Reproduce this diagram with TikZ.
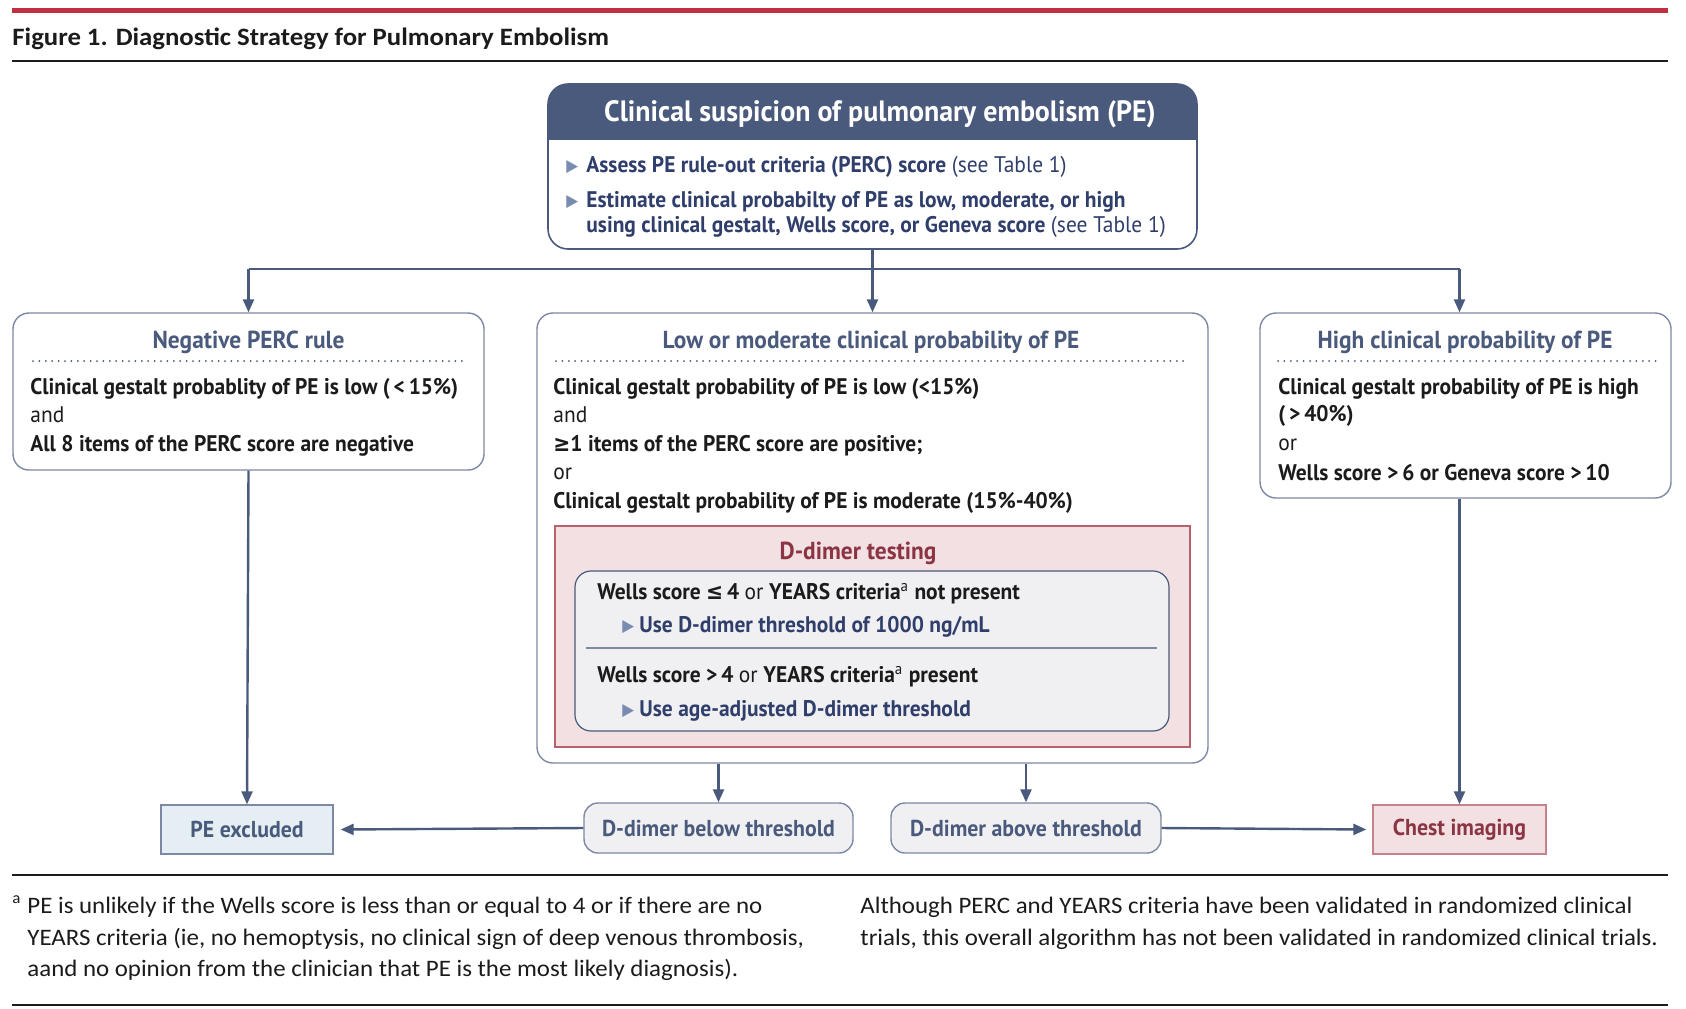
\documentclass[tikz,border=0pt]{standalone}
\usepackage{fontspec}
\setmainfont{PT Sans}[FakeStretch=0.95]
\newfontfamily\symfont{DejaVu Sans}[FakeStretch=0.9]
\newfontfamily\notefont{Carlito}[FakeStretch=1.055]
\newfontfamily\titlefont{Carlito}[FakeStretch=1.07]
\usetikzlibrary{arrows.meta}
\definecolor{slate}{HTML}{4A5A7C}
\definecolor{navy}{HTML}{2F3E6B}
\definecolor{ink}{HTML}{1B1B1B}
\definecolor{boxline}{HTML}{7D88A6}
\definecolor{bultri}{HTML}{7A8BB0}
\definecolor{jred}{HTML}{C0313F}
\definecolor{pinkfill}{HTML}{F3E0E2}
\definecolor{pinkline}{HTML}{B7616F}
\definecolor{wine}{HTML}{8B3443}
\definecolor{greyfill}{HTML}{F0F0F2}
\definecolor{bluefill}{HTML}{E5EFF3}
\tikzset{
  arr/.style={draw=slate, line width=1.2pt, -{Triangle[length=6.5pt,width=5.5pt]}},
  wire/.style={draw=slate, line width=1.2pt},
  panel/.style={draw=boxline, line width=0.7pt, rounded corners=8pt, fill=white, inner sep=0},
  boxtitle/.style={font=\bfseries\fontsize{12.3}{15}\selectfont, text=slate, anchor=base, inner sep=0},
  body/.style={font=\bfseries\fontsize{11.3}{14}\selectfont, text=ink, anchor=base west, inner sep=0},
  plain/.style={font=\mdseries\fontsize{11.3}{14}\selectfont, text=ink, anchor=base west, inner sep=0},
  navytext/.style={font=\bfseries\fontsize{11.3}{14}\selectfont, text=navy, anchor=base west, inner sep=0},
  bullet/.style={font=\symfont\fontsize{8.5}{9}\selectfont, text=bultri, anchor=base west, inner sep=0},
  dots/.style={draw=slate, line width=1pt, line cap=round, dash pattern=on 0pt off 3.2pt},
  foot/.style={font=\notefont\fontsize{11.8}{14}\selectfont, text=ink, anchor=base west, inner sep=0},
  endbox/.style={line width=0.7pt, inner sep=0, font=\bfseries\fontsize{11.5}{14}\selectfont},
}
\begin{document}
\begin{tikzpicture}[x=0.5pt,y=-0.5pt]
\path[use as bounding box] (0,0) rectangle (1686,1008);
\fill[white] (0,0) rectangle (1686,1008);
% header rules and title
\draw[draw=jred, line width=2.5pt] (12,10.5) -- (1668,10.5);
\node[anchor=base west, inner sep=0, font=\titlefont\bfseries\fontsize{12.5}{15}\selectfont, text=ink] (title) at (12,45) {Figure 1. Diagnostic Strategy for Pulmonary Embolism};
\draw[draw=ink, line width=1pt] (12,61) -- (1668,61);

% top box
\begin{scope}
  \clip (548,84) rectangle (1197,139);
  \fill[slate, rounded corners=10pt] (548,84) rectangle (1197,249);
\end{scope}
\node[draw=slate, line width=0.8pt, rounded corners=10pt, minimum width=324.5pt, minimum height=82.5pt, inner sep=0] (top) at (872.5,166.5) {};
\node[font=\bfseries\fontsize{14.7}{18}\selectfont, text=white, anchor=base, inner sep=0] (hdr) at (880,121) {Clinical suspicion of pulmonary embolism (PE)};
\node[bullet] (b1) at (566,171) {▶};
\node[navytext] (t1) at (586,172) {Assess PE rule-out criteria (PERC) score \mdseries(see Table 1)};
\node[bullet] (b2) at (566,206) {▶};
\node[navytext] (t2) at (586,207) {Estimate clinical probabilty of PE as low, moderate, or high};
\node[navytext] (t3) at (586,232) {using clinical gestalt, Wells score, or Geneva score \mdseries(see Table 1)};

% three panels
\node[panel, minimum width=235.5pt, minimum height=78.5pt] (neg) at (248.5,391.5) {};
\node[panel, minimum width=335.5pt, minimum height=225pt] (mid) at (872.5,538) {};
\node[panel, minimum width=205.5pt, minimum height=92.5pt] (high) at (1465.5,405.5) {};

% connectors from top
\coordinate (jc) at (872.5,269);
\coordinate (jl) at (248.5,269);
\coordinate (jr) at (1459.5,269);
\draw[wire] (top.south) -- (jc);
\draw[wire] (jl) -- (jr);
\draw[arr] (jl) -- (neg.north);
\draw[arr] (jc) -- (mid.north);
\draw[arr] (jr) -- (jr |- high.north);

% left panel text
\node[boxtitle] (negt) at (248.5,348) {Negative PERC rule};
\draw[dots] (33,361) -- (467,361);
\node[body] (n1) at (30,394) {Clinical gestalt probablity of PE is low (\,<\,15\%)};
\node[plain] (n2) at (30,422) {and};
\node[body] (n3) at (30,451) {All 8 items of the PERC score are negative};

% middle panel text
\node[boxtitle] (midt) at (871,348) {Low or moderate clinical probability of PE};
\draw[dots] (556,361) -- (1188,361);
\node[body] (m1) at (553,394) {Clinical gestalt probability of PE is low (<15\%)};
\node[plain] (m2) at (553,422) {and};
\node[body] (m3) at (553,451) {{\symfont ≥}1 items of the PERC score are positive;};
\node[plain] (m4) at (553,479) {or};
\node[body] (m5) at (553,508) {Clinical gestalt probability of PE is moderate (15\%-40\%)};

% D-dimer box
\node[draw=pinkline, fill=pinkfill, line width=0.7pt, minimum width=317.5pt, minimum height=110.5pt, inner sep=0] (dd) at (872.5,636.5) {};
\node[boxtitle, text=wine] (ddt) at (858,559) {D-dimer testing};
\node[draw=slate, fill=greyfill, line width=0.6pt, rounded corners=8pt, minimum width=297pt, minimum height=80pt, inner sep=0] (ddin) at (872,651) {};
\node[body] (d1) at (597,599) {Wells score {\symfont ≤}\,4 \mdseries or \bfseries YEARS criteria\textsuperscript{\mdseries a} not present};
\node[bullet] (db1) at (622,631) {▶};
\node[navytext] (d2) at (639,632) {Use D-dimer threshold of 1000 ng/mL};
\draw[draw=slate!70, line width=0.8pt] (586,648) -- (1157,648);
\node[body] (d3) at (597,682) {Wells score >\,4 \mdseries or \bfseries YEARS criteria\textsuperscript{\mdseries a} present};
\node[bullet] (db2) at (622,715) {▶};
\node[navytext] (d4) at (639,716) {Use age-adjusted D-dimer threshold};

% right panel text
\node[boxtitle] (hight) at (1465,348) {High clinical probability of PE};
\draw[dots] (1278,361) -- (1656,361);
\node[body] (h1) at (1278,394) {Clinical gestalt probability of PE is high};
\node[body] (h2) at (1278,421) {(\,>\,40\%)};
\node[plain] (h3) at (1278,450) {or};
\node[body] (h4) at (1278,480) {Wells score >\,6 or Geneva score >\,10};

% end nodes
\node[endbox, draw=boxline, fill=bluefill, text=slate, minimum width=86pt, minimum height=24.5pt] (excl) at (247,829.5) {PE excluded};
\node[endbox, draw=boxline, fill=greyfill, text=slate, rounded corners=7pt, minimum width=134.5pt, minimum height=25pt] (below) at (718.5,828) {D-dimer below threshold};
\node[endbox, draw=boxline, fill=greyfill, text=slate, rounded corners=7pt, minimum width=135pt, minimum height=25pt] (above) at (1026,828) {D-dimer above threshold};
\node[endbox, draw=pinkline!80, fill=pinkfill, text=wine, minimum width=86.5pt, minimum height=24.5pt] (chest) at (1459.5,829.5) {Chest imaging};

\draw[arr] (neg.south) -- (excl.north);
\draw[arr] (chest.north |- high.south) -- (chest.north);
\draw[arr] (below.north |- mid.south) -- (below.north);
\draw[arr] (above.north |- mid.south) -- (above.north);
\draw[arr] (below.west) -- ([xshift=3.5pt]excl.east);
\draw[arr] (above.east) -- ([xshift=-3pt]chest.west);

% footer
\draw[draw=ink, line width=1pt] (12,875) -- (1668,875);
\node[foot, font=\notefont\fontsize{8}{9}\selectfont] (fa) at (12,903) {a};
\node[foot] (f1) at (27,913) {PE is unlikely if the Wells score is less than or equal to 4 or if there are no};
\node[foot] (f2) at (27,945) {YEARS criteria (ie, no hemoptysis, no clinical sign of deep venous thrombosis,};
\node[foot] (f3) at (27,976) {aand no opinion from the clinician that PE is the most likely diagnosis).};
\node[foot] (g1) at (860,913) {Although PERC and YEARS criteria have been validated in randomized clinical};
\node[foot] (g2) at (860,945) {trials, this overall algorithm has not been validated in randomized clinical trials.};
\draw[draw=ink, line width=1pt] (12,1005) -- (1668,1005);
\end{tikzpicture}
\end{document}
